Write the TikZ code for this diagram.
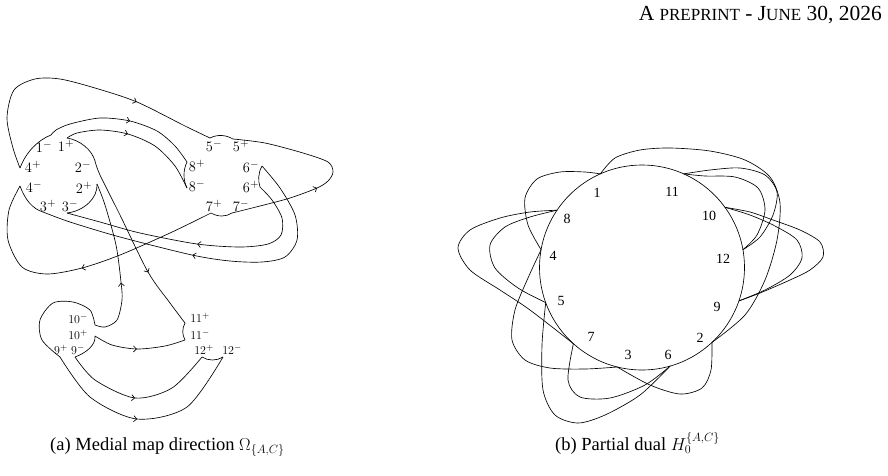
\documentclass[tikz,border=0pt]{standalone}
\usepackage{fontspec}
\newfontfamily\tms{Liberation Serif}
\usetikzlibrary{decorations.markings,arrows.meta}
\tikzset{
  ln/.style={line width=0.65pt},
  arr/.style={postaction={decorate},decoration={markings,mark=at position #1 with {\arrow{Straight Barb[length=3pt,width=6pt]}}}},
  lab/.style={inner sep=0pt, font=\fontsize{15.5}{15.5}\selectfont},
  slab/.style={inner sep=0pt, font=\fontsize{13}{13}\selectfont},
  num/.style={inner sep=0pt, font=\tms\fontsize{14}{14}\selectfont},
  captxt/.style={inner sep=0pt, font=\tms\fontsize{18.5}{18.5}\selectfont},
}
\begin{document}
\begin{tikzpicture}[x=1pt,y=-1pt]
\useasboundingbox (0,0) rectangle (888,475);

% header
\node[inner sep=0pt, anchor=base east, font=\tms\fontsize{21.5}{21.5}\selectfont] (hdr) at (882,20)
  {A {\fontsize{17}{17}\selectfont PREPRINT} - J{\fontsize{17}{17}\selectfont UNE} 30, 2026};

% ---------- left figure: endpoints ----------
\coordinate (A4p) at (20,168);
\coordinate (A1m) at (51,135);
\coordinate (A1p) at (67,138);
\coordinate (A2m) at (95,161);
\coordinate (A2p) at (97,184);
\coordinate (A3m) at (67,213);
\coordinate (A3p) at (43,212);
\coordinate (A4m) at (20,186);
\coordinate (B5m) at (210,138);
\coordinate (B5p) at (233,139);
\coordinate (B8p) at (187,162);
\coordinate (B8m) at (187,188);
\coordinate (B6m) at (262,166);
\coordinate (B6p) at (260,187);
\coordinate (B7p) at (211,213);
\coordinate (B7m) at (232,213);
\coordinate (C10m) at (95,325);
\coordinate (C10p) at (95,336);
\coordinate (C9p) at (60,357);
\coordinate (C9m) at (75,357);
\coordinate (C11p) at (185,323);
\coordinate (C11m) at (185,340);
\coordinate (C12p) at (202,357);
\coordinate (C12m) at (223,357);

% labels
\node[lab] (l1m) at (44,147) {$1^-$};
\node[lab] (l1p) at (66,146) {$1^+$};
\node[lab] (l4p) at (33,167) {$4^+$};
\node[lab] (l2m) at (83,167) {$2^-$};
\node[lab] (l4m) at (34,187) {$4^-$};
\node[lab] (l2p) at (84,188) {$2^+$};
\node[lab] (l3p) at (48,206) {$3^+$};
\node[lab] (l3m) at (70,206) {$3^-$};
\node[lab] (l5m) at (214,146) {$5^-$};
\node[lab] (l5p) at (241,146) {$5^+$};
\node[lab] (l8p) at (197,166) {$8^+$};
\node[lab] (l6m) at (251,167) {$6^-$};
\node[lab] (l8m) at (197,186) {$8^-$};
\node[lab] (l6p) at (251,187) {$6^+$};
\node[lab] (l7p) at (214,206) {$7^+$};
\node[lab] (l7m) at (241,206) {$7^-$};
\node[slab] (l10m) at (78,319) {$10^-$};
\node[slab] (l10p) at (78,335) {$10^+$};
\node[slab] (l9p) at (61,350) {$9^+$};
\node[slab] (l9m) at (78,350) {$9^-$};
\node[slab] (l11p) at (200,318) {$11^+$};
\node[slab] (l11m) at (200,335) {$11^-$};
\node[slab] (l12p) at (204,350) {$12^+$};
\node[slab] (l12m) at (232,350) {$12^-$};

% short arcs
\draw[ln] (A4p) .. controls (26,152) and (38,140) .. (A1m);
\draw[ln] (A1p) .. controls (80,140) and (92,150) .. (A2m);
\draw[ln] (A2p) .. controls (98,198) and (84,211) .. (A3m);
\draw[ln] (A4m) .. controls (25,200) and (33,209) .. (A3p);
\draw[ln] (B5m) .. controls (218,134) and (226,135) .. (B5p);
\draw[ln] (B8p) .. controls (183,170) and (183,180) .. (B8m);
\draw[ln] (B6m) .. controls (258,173) and (258,181) .. (B6p);
\draw[ln] (B7p) .. controls (218,217) and (226,217) .. (B7m);
\draw[ln] (C11p) .. controls (182,329) and (182,334) .. (C11m);
\draw[ln] (C12p) .. controls (208,361) and (217,361) .. (C12m);
\draw[ln] (C10p) .. controls (96,345) and (86,353) .. (C9m);

% long connectors
\draw[ln, arr=0.72] plot[smooth] coordinates {(A4p) (13,148) (7,118) (14,90) (35,79) (60,79) (95,88) (137,102) (185,126) (B5m)};
\draw[ln, arr=0.535] plot[smooth] coordinates {(A1m) (56,130) (70,124) (100,118) (130,121) (157,131) (175,146) (B8p)};
\draw[ln, arr=0.43] plot[smooth] coordinates {(A1p) (77,133) (100,130) (128,134) (155,146) (175,166) (B8m)};
\draw[ln, arr=0.664] plot[smooth] coordinates {(A2m) (100,175) (120,215) (148,272) (170,303) (C11p)};
\draw[ln, arr=0.38] plot[smooth] coordinates {(C10m) (105,327) (117,320) (122,300) (121,282) (116,245) (105,205) (A2p)};
\draw[ln, arr=0.516] plot[smooth] coordinates {(B6p) (272,200) (282,218) (281,235) (268,244) (240,247) (197,244) (140,233) (100,222) (A3m)};
\draw[ln, arr=0.562] plot[smooth] coordinates {(B6m) (280,188) (295,215) (297,240) (285,257) (262,262) (230,261) (192,255) (120,237) (70,222) (A3p)};
\draw[ln, arr=0.486] plot[smooth] coordinates {(B7p) (170,233) (120,255) (82,268) (47,274) (22,267) (8,240) (9,210) (A4m)};
\draw[ln, arr=0.40] plot[smooth] coordinates {(B7m) (260,206) (290,198) (317,188) (328,181) (333,172) (328,162) (303,153) (265,143) (B5p)};
\draw[ln] plot[smooth] coordinates {(C10m) (90,310) (73,302) (53,303) (40,320) (42,340) (C9p)};
\draw[ln, arr=0.475] plot[smooth] coordinates {(C10p) (112,345) (137,349) (165,346) (C11m)};
\draw[ln, arr=0.477] plot[smooth] coordinates {(C9m) (95,380) (135,398) (172,388) (C12p)};
\draw[ln, arr=0.474] plot[smooth] coordinates {(C9p) (90,397) (137,419) (187,407) (C12m)};

% ---------- right figure ----------
\node[draw, circle, ln, minimum size=205pt, inner sep=0pt] (V) at (642,267.5) {};
\coordinate (P1) at (600.3,173.9);
\coordinate (P11) at (683.7,173.9);
\coordinate (P10) at (724.9,207.3);
\coordinate (P12) at (742.9,249.7);
\coordinate (P9) at (738.9,300.9);
\coordinate (P2) at (711.9,342.5);
\coordinate (P6) at (670.2,366.0);
\coordinate (P3) at (617.2,367.0);
\coordinate (P7) at (573.4,343.7);
\coordinate (P5) at (545.7,302.6);
\coordinate (P4) at (541.1,249.7);
\coordinate (P8) at (557.0,210.2);

\node[num] (n1) at (597,193) {1};
\node[num] (n11) at (672,192) {11};
\node[num] (n8) at (567,219) {8};
\node[num] (n10) at (709,216) {10};
\node[num] (n4) at (553,256) {4};
\node[num] (n12) at (723,259) {12};
\node[num] (n5) at (561,301) {5};
\node[num] (n9) at (717,307) {9};
\node[num] (n7) at (591,337) {7};
\node[num] (n2) at (700,338) {2};
\node[num] (n3) at (628,355) {3};
\node[num] (n6) at (668,355) {6};

\draw[ln] plot[smooth] coordinates {(P1) (585,172) (560,172) (537,179) (525,198) (528,225) (P4)};
\draw[ln] plot[smooth] coordinates {(P1) (615,158) (640,150) (670,148) (710,151) (745,160) (770,177) (780,203) (777,240) (765,280) (745,315) (P2)};
\draw[ln] plot[smooth] coordinates {(P11) (710,170) (740,168) (765,175) (777,192) (773,215) (760,237) (P12)};
\draw[ln] plot[smooth] coordinates {(P11) (705,176) (735,177) (758,188) (765,210) (757,235) (P12)};
\draw[ln] plot[smooth] coordinates {(P10) (750,212) (773,220) (800,230) (820,242) (823,257) (810,270) (790,280) (760,293) (P9)};
\draw[ln] plot[smooth] coordinates {(P10) (750,215) (775,226) (797,240) (802,258) (790,275) (765,290) (P9)};
\draw[ln] plot[smooth] coordinates {(P4) (528,278) (515,310) (512,340) (525,360) (550,368) (585,369) (P3)};
\draw[ln] plot[smooth] coordinates {(P8) (530,212) (500,218) (470,230) (458,248) (470,270) (500,290) (530,310) (P7)};
\draw[ln] plot[smooth] coordinates {(P8) (530,217) (505,227) (490,245) (495,268) (518,288) (P5)};
\draw[ln] plot[smooth] coordinates {(P6) (645,385) (610,398) (580,397) (568,380) (P7)};
\draw[ln] plot[smooth] coordinates {(P6) (640,395) (605,415) (578,423) (555,415) (543,390) (542,345) (P5)};
\draw[ln] plot[smooth] coordinates {(P2) (711,370) (702,388) (680,394) (650,385) (P3)};

% captions
\node[captxt, anchor=base west] (capa) at (50,450) {(a) Medial map direction $\Omega_{\{A,C\}}$};
\node[captxt, anchor=base west] (capb) at (555,450) {(b) Partial dual $H_0^{\{A,C\}}$};
\end{tikzpicture}
\end{document}
